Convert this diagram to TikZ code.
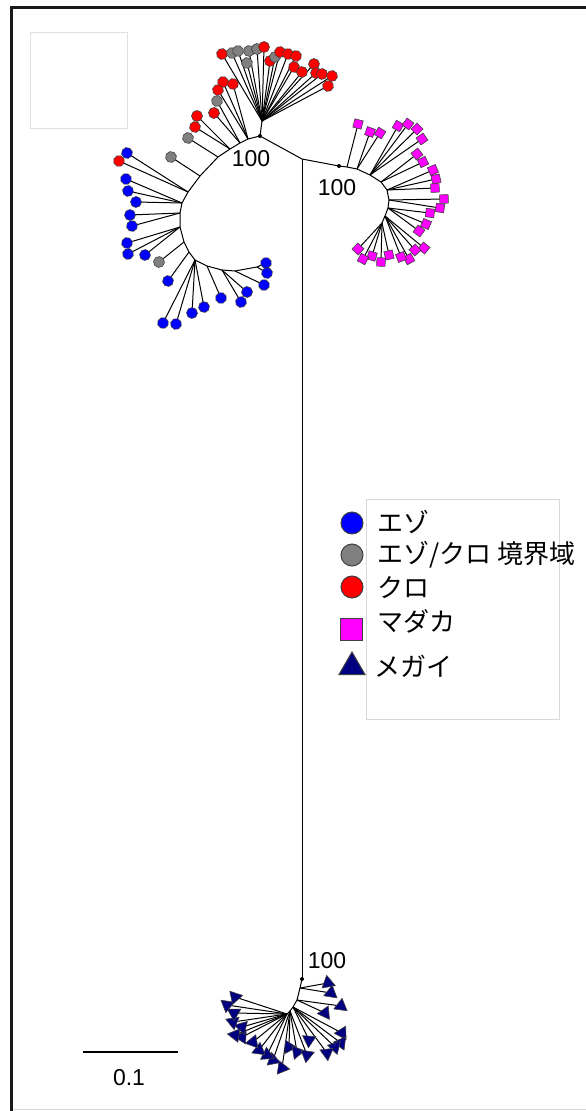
\documentclass[tikz,border=0pt]{standalone}
\usepackage{fontspec}
\setmainfont{Liberation Sans}
\newfontfamily\jpfont{Noto Sans CJK JP}
\usetikzlibrary{calc,shapes.geometric}
\pgfdeclarelayer{bg}
\pgfsetlayers{bg,main}
\definecolor{mag}{RGB}{255,0,255}
\definecolor{navy}{RGB}{0,0,128}
\tikzset{
  branch/.style={line width=1pt, black},
  mk/.style={draw=black!75, line width=0.6pt, inner sep=0pt},
  ezo/.style={mk, circle, fill=blue, minimum size=11pt},
  kyo/.style={mk, circle, fill=gray, minimum size=11pt},
  kuro/.style={mk, circle, fill=red, minimum size=11pt},
  mada/.style={mk, rectangle, fill=mag, minimum size=8.5pt},
  megai/.style={mk, regular polygon, regular polygon sides=3, shape border rotate=0, fill=navy, minimum size=15.5pt},
  idot/.style={circle, fill=black, minimum size=4pt, inner sep=0pt},
  boot/.style={font=\fontsize{23}{23}\selectfont, inner sep=0pt},
  legtxt/.style={anchor=west, inner sep=0pt, font=\jpfont\fontsize{26}{26}\selectfont},
}
\newcommand\leaf[4]{%
  \path let \p1=($(#3)-(#2)$), \n1={atan2(\y1,\x1)} in node[#4, rotate=\n1] (#1) at (#3) {};
  \begin{pgfonlayer}{bg}\draw[branch] (#2) -- (#1.center);\end{pgfonlayer}%
}
\begin{document}
\begin{tikzpicture}[x=1pt,y=-1pt]
\useasboundingbox (0,0) rectangle (586,1111);
% frame
\draw[black!15, line width=1pt] (11,1109.5) -- (586,1109.5);
\draw[line width=3pt, black!90] (11,1111) -- (11,7) -- (586,7);
\draw[black!12, line width=0.8pt] (30,32) rectangle (127,128);
% internal nodes
\coordinate (J) at (302,159);
\coordinate (A0) at (260,136);
\coordinate (At) at (262,121);
\coordinate (A1) at (248,139);
\coordinate (A2) at (240,143);
\coordinate (A3) at (230,149);
\coordinate (A4) at (218,157);
\coordinate (A5) at (200,176);
\coordinate (A6) at (188,192);
\coordinate (A7) at (182,203);
\coordinate (A8) at (180,213);
\coordinate (A9) at (180,227);
\coordinate (A10) at (184,242);
\coordinate (A11) at (189,252);
\coordinate (A12) at (195,260);
\coordinate (A13) at (207,266);
\coordinate (A14) at (222,270);
\coordinate (A15) at (235,271);
\coordinate (A16) at (257,267);
\coordinate (B0) at (339,166);
\coordinate (B1) at (347,167);
\coordinate (B2) at (357,169);
\coordinate (B3) at (370,175);
\coordinate (B4) at (381,182);
\coordinate (B5) at (387,190);
\coordinate (B6) at (389,200);
\coordinate (B7) at (388,208);
\coordinate (B8) at (385,216);
\coordinate (B9) at (382,223);
\coordinate (C0) at (302,979);
\coordinate (C1) at (300,988);
\coordinate (C2) at (297,1000);
\coordinate (C3) at (293,1007);
\coordinate (C4) at (290,1011);
\coordinate (C5) at (287,1014);
\begin{pgfonlayer}{bg}
\draw[branch] (A0) -- (J) -- (B0);
\draw[branch] (J) -- (C0);
\draw[branch] (At) -- (A0) -- (A1) -- (A2) -- (A3) -- (A4) -- (A5) -- (A6) -- (A7) -- (A8) -- (A9) -- (A10) -- (A11) -- (A12) -- (A13) -- (A14) -- (A15) -- (A16);
\draw[branch] (B0) -- (B1) -- (B2) -- (B3) -- (B4) -- (B5) -- (B6) -- (B7) -- (B8) -- (B9);
\draw[branch] (C0) -- (C1) -- (C2) -- (C3) -- (C4) -- (C5);
\end{pgfonlayer}
% clade A top fan
\leaf{a01}{At}{222,54}{kuro}
\leaf{a02}{At}{232,53}{kyo}
\leaf{a03}{At}{238,51}{kyo}
\leaf{a04}{At}{247,63}{kyo}
\leaf{a05}{At}{249,51}{kyo}
\leaf{a06}{At}{257,49}{kyo}
\leaf{a07}{At}{264,47}{kuro}
\leaf{a08}{At}{270,61}{kuro}
\leaf{a09}{At}{275,57}{kyo}
\leaf{a10}{At}{280,52}{kuro}
\leaf{a11}{At}{288,54}{kuro}
\leaf{a12}{At}{296,56}{kuro}
\leaf{a13}{At}{294,67}{kuro}
\leaf{a14}{At}{302,72}{kuro}
\leaf{a15}{At}{314,64}{kuro}
\leaf{a16}{At}{316,73}{kuro}
\leaf{a17}{At}{322,74}{kuro}
\leaf{a18}{At}{332,76}{kuro}
\leaf{a19}{At}{328,86}{kuro}
% clade A backbone leaves
\leaf{a20}{A1}{223,82}{kuro}
\leaf{a21}{A1}{233,84}{kuro}
\leaf{a22}{A1}{218,90}{kuro}
\leaf{a23}{A2}{217,101}{kyo}
\leaf{a24}{A2}{214,113}{kuro}
\leaf{a25}{A3}{197,116}{kuro}
\leaf{a26}{A3}{195,127}{kuro}
\leaf{a27}{A4}{188,138}{kyo}
\leaf{a28}{A5}{171,157}{kyo}
\leaf{a29}{A6}{127,153}{ezo}
\leaf{a30}{A6}{119,161}{kuro}
\leaf{a31}{A7}{126,179}{ezo}
\leaf{a32}{A7}{128,191}{ezo}
\leaf{a33}{A7}{136,202}{ezo}
\leaf{a34}{A8}{130,215}{ezo}
\leaf{a35}{A8}{132,226}{ezo}
\leaf{a36}{A9}{127,243}{ezo}
\leaf{a37}{A9}{128,254}{ezo}
\leaf{a38}{A9}{145,255}{ezo}
\leaf{a39}{A10}{159,262}{kyo}
\leaf{a40}{A11}{168,281}{ezo}
\leaf{a41}{A12}{163,323}{ezo}
\leaf{a42}{A12}{176,324}{ezo}
\leaf{a43}{A12}{192,313}{ezo}
\leaf{a44}{A12}{204,307}{ezo}
\leaf{a45}{A13}{221,298}{ezo}
\leaf{a46}{A14}{241,302}{ezo}
\leaf{a47}{A14}{247,292}{ezo}
\leaf{a48}{A15}{264,285}{ezo}
\leaf{a49}{A16}{266,263}{ezo}
\leaf{a50}{A16}{267,273}{ezo}
% clade B
\leaf{b01}{B1}{358,124}{mada}
\leaf{b02}{B2}{370,132}{mada}
\leaf{b03}{B2}{380,133}{mada}
\leaf{b04}{B3}{398,126}{mada}
\leaf{b05}{B3}{408,124}{mada}
\leaf{b06}{B3}{417,129}{mada}
\leaf{b07}{B3}{422,139}{mada}
\leaf{b08}{B4}{417,154}{mada}
\leaf{b09}{B4}{423,162}{mada}
\leaf{b10}{B5}{433,170}{mada}
\leaf{b11}{B5}{436,179}{mada}
\leaf{b12}{B5}{435,188}{mada}
\leaf{b13}{B6}{444,199}{mada}
\leaf{b14}{B6}{440,208}{mada}
\leaf{b15}{B7}{430,213}{mada}
\leaf{b16}{B7}{426,224}{mada}
\leaf{b17}{B7}{419,231}{mada}
\leaf{b18}{B8}{424,248}{mada}
\leaf{b19}{B8}{415,250}{mada}
\leaf{b20}{B8}{409,259}{mada}
\leaf{b21}{B8}{401,257}{mada}
\leaf{b22}{B9}{389,255}{mada}
\leaf{b23}{B9}{381,262}{mada}
\leaf{b24}{B9}{372,256}{mada}
\leaf{b25}{B9}{363,259}{mada}
\leaf{b26}{B9}{358,249}{mada}
% clade C
\leaf{c01}{C1}{328,983}{megai}
\leaf{c02}{C1}{331,993}{megai}
\leaf{c03}{C2}{341,1006}{megai}
\leaf{c04}{C2}{325,1013}{megai}
\leaf{c05}{C3}{342,1033}{megai}
\leaf{c06}{C3}{341,1043}{megai}
\leaf{c07}{C3}{335,1047}{megai}
\leaf{c08}{C3}{327,1053}{megai}
\leaf{c09}{C3}{309,1040}{megai}
\leaf{c10}{C4}{289,1047}{megai}
\leaf{c11}{C4}{297,1052}{megai}
\leaf{c12}{C4}{307,1055}{megai}
\leaf{c13}{C4}{282,1068}{megai}
\leaf{c14}{C4}{273,1060}{megai}
\leaf{c15}{C5}{267,1055}{megai}
\leaf{c16}{C5}{259,1050}{megai}
\leaf{c17}{C5}{253,1042}{megai}
\leaf{c18}{C5}{242,1037}{megai}
\leaf{c19}{C5}{235,1035}{megai}
\leaf{c20}{C5}{242,1027}{megai}
\leaf{c21}{C5}{233,1022}{megai}
\leaf{c22}{C5}{234,1013}{megai}
\leaf{c23}{C5}{227,1005}{megai}
\leaf{c24}{C5}{235,997}{megai}
% bootstrap dots and labels
\node[idot] (dA) at (A0) {};
\node[idot] (dB) at (B0) {};
\node[idot] (dC) at (C0) {};
\node[boot] (lA) at (251,159) {100};
\node[boot] (lB) at (337,188) {100};
\node[boot] (lC) at (327,961) {100};
% legend
\draw[black!15, line width=0.8pt] (366,499) rectangle (559,719);
\node[ezo, minimum size=22pt, line width=1pt] (g1) at (352,523) {};
\node[kyo, minimum size=22pt, line width=1pt] (g2) at (352,555) {};
\node[kuro, minimum size=22pt, line width=1pt] (g3) at (352,587) {};
\node[mada, minimum size=22pt, line width=1pt] (g4) at (351,629) {};
\node[megai, minimum size=30pt, line width=1pt] (g5) at (352,667) {};
\node[legtxt] (t1) at (377,522) {エゾ};
\node[legtxt] (t2) at (377,555) {エゾ/クロ 境界域};
\node[legtxt] (t3) at (377,588) {クロ};
\node[legtxt] (t4) at (377,621) {マダカ};
\node[legtxt] (t5) at (374,666) {メガイ};
% scale bar
\coordinate (s1) at (83,1052);
\coordinate (s2) at (178,1052);
\draw[line width=1.5pt] (s1) -- (s2);
\node[boot] (sl) at (129,1078) {0.1};
\end{tikzpicture}
\end{document}
